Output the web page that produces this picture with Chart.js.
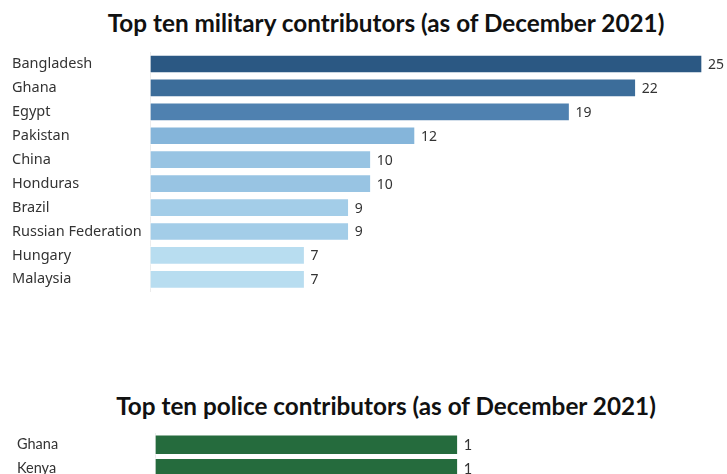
<!DOCTYPE html>
<html>
<head>
<meta charset="utf-8">
<script src="https://cdn.jsdelivr.net/npm/chart.js@4"></script>
<style>
    html, body { margin: 0; padding: 0; background: #fff; overflow: hidden; }
    body { width: 727px; height: 474px; position: relative; }
    .title {
        position: absolute; left: 0; width: 772px; text-align: center;
        font-family: Lato, sans-serif; font-weight: bold; font-size: 24.3px; color: #111;
    }
    .box { position: absolute; left: 0; width: 727px; }
</style>
</head>
<body>
<div class="title" style="top: 8px;">Top ten military contributors (as of December 2021)</div>
<div class="box" style="top: 0; height: 300px;"><canvas id="militaryChart"></canvas></div>
<div class="title" style="top: 391px;">Top ten police contributors (as of December 2021)</div>
<div class="box" style="top: 420px; height: 100px;"><canvas id="policeChart"></canvas></div>
<script>
const militaryCountries = ["Bangladesh", "Ghana", "Egypt", "Pakistan", "China", "Honduras",
    "Brazil", "Russian Federation", "Hungary", "Malaysia"];
const militaryValues = [25, 22, 19, 12, 10, 10, 9, 9, 7, 7];

const policeCountries = ["Ghana", "Kenya"];
const policeValues = [1, 1];

const militaryColors = ["#2b5883", "#3c6d9a", "#4f81b0", "#85b5da", "#98c4e3", "#98c4e3",
    "#a3cde8", "#a3cde8", "#b8ddf0", "#b8ddf0"];

// draws the value just past the end of each bar
const valueLabels = {
    id: "valueLabels",
    afterDatasetsDraw(chart, args, opts) {
        const ctx = chart.ctx;
        ctx.save();
        ctx.font = opts.font;
        ctx.fillStyle = "#333";
        ctx.textBaseline = "middle";
        chart.getDatasetMeta(0).data.forEach(function(bar, i) {
            ctx.fillText(chart.data.datasets[0].data[i], bar.x + opts.offset, bar.y + 1);
        });
        ctx.restore();
    }
};

function makeChart(id, labels, values, colors, opts) {
    const ctx = document.getElementById(id).getContext("2d");
    return new Chart(ctx, {
        type: "bar",
        data: {
            labels: labels,
            datasets: [{
                data: values,
                backgroundColor: colors,
                borderColor: "rgba(255,255,255,0.45)",
                borderWidth: 1,
                borderSkipped: false,
                barThickness: opts.barThickness
            }]
        },
        options: {
            indexAxis: "y",
            responsive: true,
            maintainAspectRatio: false,
            animation: false,
            events: [],
            layout: { padding: opts.padding },
            plugins: {
                legend: { display: false },
                tooltip: { enabled: false },
                valueLabels: { font: opts.valueFont, offset: 6 }
            },
            scales: {
                x: { display: false, min: 0, max: opts.max },
                y: {
                    grid: { display: false },
                    border: { display: true, color: "#ececec" },
                    ticks: {
                        crossAlign: "far",
                        color: "#333",
                        padding: 0,
                        font: opts.tickFont
                    },
                    afterFit(scale) { scale.width = opts.axisWidth; }
                }
            }
        },
        plugins: [valueLabels]
    });
}

document.addEventListener("DOMContentLoaded", function() {
    makeChart("militaryChart", militaryCountries, militaryValues, militaryColors, {
        max: 25,
        padding: { left: 12, right: 25, top: 52, bottom: 8 },
        axisWidth: 138,
        barThickness: 18,
        tickFont: { family: "'Noto Sans', sans-serif", size: 14.5 },
        valueFont: "14px 'Noto Sans', sans-serif"
    });
    makeChart("policeChart", policeCountries, policeValues, "#256b3d", {
        max: 1.8,
        padding: { left: 17, right: 27, top: 13, bottom: 40 },
        axisWidth: 138,
        barThickness: 20,
        tickFont: { family: "Lato, sans-serif", size: 14.5 },
        valueFont: "14.5px Lato, sans-serif"
    });
});
</script>
</body>
</html>
